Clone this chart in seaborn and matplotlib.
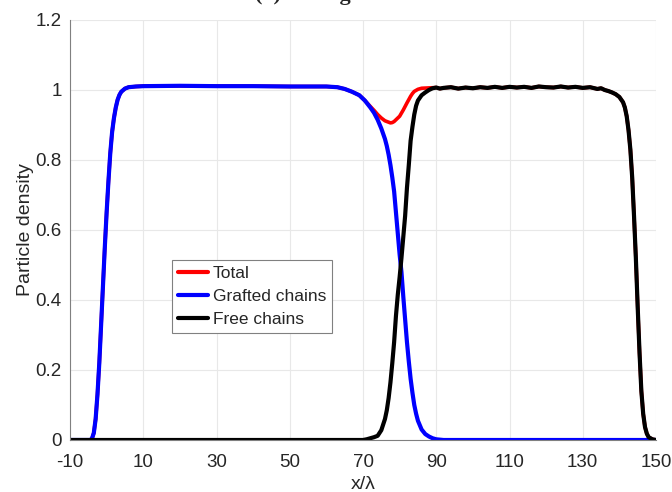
import matplotlib
matplotlib.use("Agg")
import matplotlib.pyplot as plt
import seaborn as sns
import pandas as pd

# ---- data ----
grafted = [(-10, 0), (-6, 0), (-4.5, 0), (-4, 0.004), (-3.5, 0.02), (-3, 0.06), (-2.5, 0.13),
           (-2, 0.22), (-1.5, 0.33), (-1, 0.44), (-0.5, 0.55), (0, 0.65), (0.5, 0.74),
           (1, 0.82), (1.5, 0.88), (2, 0.92), (2.5, 0.95), (3, 0.972), (3.5, 0.986),
           (4, 0.995), (5, 1.004), (6, 1.008), (8, 1.01), (10, 1.011),
           (20, 1.012), (30, 1.011), (40, 1.011), (50, 1.01), (60, 1.01), (63, 1.008),
           (65, 1.003), (67, 0.995), (69, 0.985), (70.5, 0.97), (72, 0.95), (73, 0.935),
           (74, 0.915), (75, 0.89), (76, 0.86), (76.5, 0.84), (77, 0.815), (77.5, 0.785),
           (78, 0.75), (78.5, 0.71), (79, 0.65), (79.5, 0.59), (80, 0.53), (80.5, 0.48),
           (81, 0.41), (81.5, 0.345), (82, 0.28), (82.5, 0.225), (83, 0.175), (83.5, 0.135),
           (84, 0.1), (84.5, 0.075), (85, 0.055), (86, 0.03), (87, 0.017), (88, 0.01),
           (89, 0.005), (90, 0.002), (92, 0), (120, 0), (150, 0)]

free = [(-10, 0), (40, 0), (70, 0), (71, 0.002), (72, 0.005), (73, 0.008), (74, 0.012),
        (75, 0.028), (76, 0.06), (76.5, 0.085), (77, 0.12), (77.5, 0.165), (78, 0.22),
        (78.5, 0.28), (79, 0.355), (79.5, 0.415), (80, 0.465), (80.5, 0.52), (81, 0.58),
        (81.5, 0.64), (82, 0.72), (82.5, 0.785), (83, 0.855), (83.5, 0.895), (84, 0.93),
        (84.5, 0.955), (85, 0.97), (86, 0.985), (87, 0.993), (88, 1.0), (89, 1.005),
        (90, 1.007), (91, 1.004), (92, 1.006), (94, 1.008), (96, 1.004), (98, 1.007),
        (100, 1.005), (102, 1.008), (104, 1.006), (106, 1.009), (108, 1.006), (110, 1.009),
        (112, 1.007), (114, 1.009), (116, 1.006), (118, 1.01), (120, 1.008), (122, 1.007),
        (124, 1.01), (126, 1.007), (128, 1.009), (130, 1.006), (132, 1.008), (134, 1.003),
        (135, 1.005), (136, 1.0), (137, 0.997), (138, 0.993), (139, 0.988), (140, 0.98),
        (141, 0.965), (141.5, 0.95), (142, 0.925), (142.5, 0.885), (143, 0.83),
        (143.5, 0.75), (144, 0.64), (144.5, 0.52), (145, 0.38), (145.5, 0.25),
        (146, 0.14), (146.5, 0.075), (147, 0.037), (147.5, 0.018), (148, 0.008),
        (149, 0.002), (150, 0)]

total = [(-10, 0), (-6, 0), (-4.5, 0), (-4, 0.004), (-3.5, 0.02), (-3, 0.06), (-2.5, 0.13),
         (-2, 0.22), (-1.5, 0.33), (-1, 0.44), (-0.5, 0.55), (0, 0.65), (0.5, 0.74),
         (1, 0.82), (1.5, 0.88), (2, 0.92), (2.5, 0.95), (3, 0.972), (3.5, 0.986),
         (4, 0.995), (5, 1.004), (6, 1.008), (8, 1.01), (10, 1.011),
         (20, 1.012), (30, 1.011), (40, 1.011), (50, 1.01), (60, 1.01), (63, 1.008),
         (65, 1.003), (67, 0.995), (69, 0.985), (70.5, 0.97), (72, 0.953), (73, 0.942),
         (74, 0.93), (75, 0.92), (76, 0.912), (77, 0.908), (77.5, 0.906), (78, 0.907),
         (78.5, 0.91), (79, 0.915), (80, 0.925), (81, 0.943), (82, 0.963), (83, 0.982),
         (83.5, 0.99), (84, 0.996), (85, 1.002), (86, 1.005), (88, 1.006), (90, 1.007),
         (91, 1.004), (92, 1.006), (94, 1.008), (96, 1.004), (98, 1.007),
         (100, 1.005), (102, 1.008), (104, 1.006), (106, 1.009), (108, 1.006), (110, 1.009),
         (112, 1.007), (114, 1.009), (116, 1.006), (118, 1.01), (120, 1.008), (122, 1.007),
         (124, 1.01), (126, 1.007), (128, 1.009), (130, 1.006), (132, 1.008), (134, 1.003),
         (135, 1.005), (136, 1.0), (137, 0.997), (138, 0.993), (139, 0.988), (140, 0.98),
         (141, 0.965), (141.5, 0.95), (142, 0.925), (142.5, 0.885), (143, 0.83),
         (143.5, 0.75), (144, 0.64), (144.5, 0.52), (145, 0.38), (145.5, 0.25),
         (146, 0.14), (146.5, 0.075), (147, 0.037), (147.5, 0.018), (148, 0.008),
         (149, 0.002), (150, 0)]

series_names = ["Total", "Grafted chains", "Free chains"]
series_colors = ["#ff0000", "#0000ff", "#000000"]
series_widths = [2.6, 3.0, 3.0]
x_ticks = [-10, 10, 30, 50, 70, 90, 110, 130, 150]
y_ticks = [0, 0.2, 0.4, 0.6, 0.8, 1, 1.2]
y_ticklabels = ["0", "0.2", "0.4", "0.6", "0.8", "1", "1.2"]

frames = []
for name, pts in zip(series_names, [total, grafted, free]):
    frames.append(pd.DataFrame({"x": [p[0] for p in pts], "y": [p[1] for p in pts], "series": name}))
df = pd.concat(frames, ignore_index=True)

sns.set_theme(style="white")
plt.rcParams["font.family"] = ["Liberation Sans", "DejaVu Sans"]

fig = plt.figure(figsize=(6.72, 4.92), dpi=100)
ax = fig.add_axes([70 / 672, 52 / 492, 586 / 672, 420 / 492])

for name, col, lw in zip(series_names, series_colors, series_widths):
    sns.lineplot(data=df[df["series"] == name], x="x", y="y", color=col,
                 linewidth=lw, estimator=None, sort=False, ax=ax, label=name)

ax.set_xlim(-10, 150)
ax.set_ylim(0, 1.2)
ax.set_xticks(x_ticks)
ax.set_xticklabels([str(t) for t in x_ticks])
ax.set_yticks(y_ticks)
ax.set_yticklabels(y_ticklabels)
ax.grid(True, color="#e8e8e8", linewidth=0.8)
ax.set_axisbelow(True)
for s in ["top", "right"]:
    ax.spines[s].set_visible(False)
for s in ["left", "bottom"]:
    ax.spines[s].set_color("#808080")
    ax.spines[s].set_linewidth(0.8)
ax.tick_params(direction="in", length=5, width=0.8, color="#808080",
               labelsize=13.5, labelcolor="#262626")
ax.tick_params(axis="x", pad=10)
ax.tick_params(axis="y", pad=6)
ax.set_xlabel("x/\u03bb", fontsize=14, color="#262626", labelpad=4)
ax.set_ylabel("Particle density", fontsize=14, color="#262626", labelpad=1)

leg = ax.legend(loc="lower left", bbox_to_anchor=(0.174, 0.255), borderaxespad=0,
                fontsize=12.5, frameon=True, fancybox=False, framealpha=1,
                handlelength=1.75, handletextpad=0.25, labelspacing=0.45,
                borderpad=0.35)
leg.get_frame().set_edgecolor("#808080")
leg.get_frame().set_linewidth(0.8)
for line in leg.get_lines():
    line.set_linewidth(3.0)

fig.text(0.497, 0.999, "(a) Strong brush", ha="center", va="baseline",
         fontsize=16, fontweight="bold", family=["Liberation Serif", "DejaVu Serif"])

fig.savefig("out.png", dpi=100)
